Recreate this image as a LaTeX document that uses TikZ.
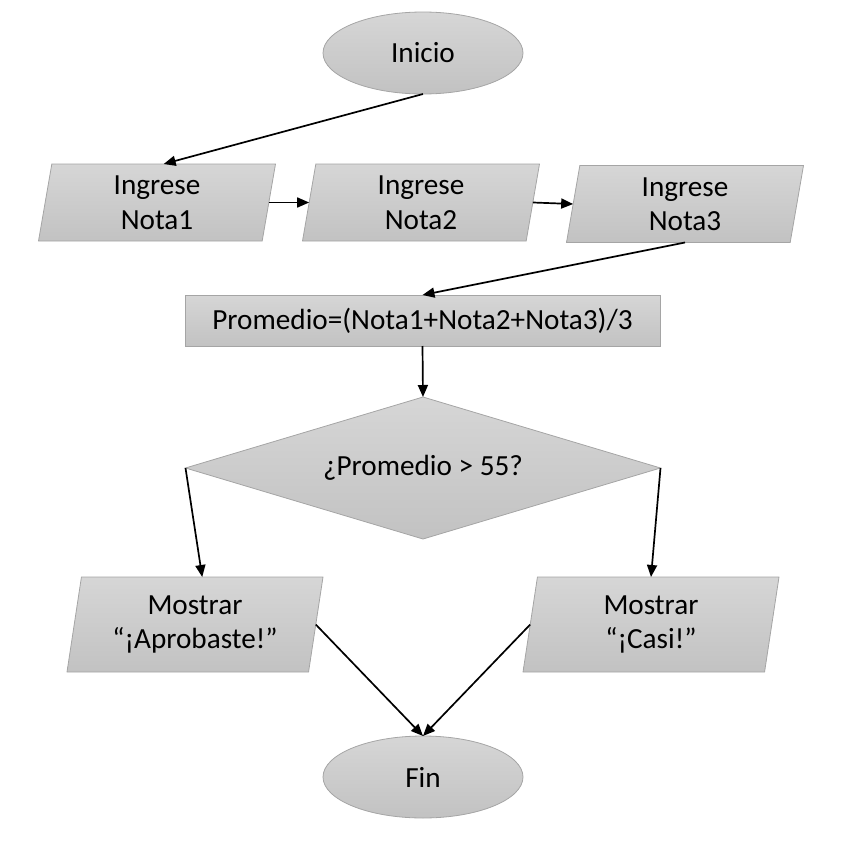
\documentclass[tikz,border=0pt]{standalone}
\usepackage{fontspec}
\setmainfont{Carlito}
\usetikzlibrary{shapes.geometric,arrows.meta}
\definecolor{shtop}{HTML}{D6D6D6}
\definecolor{shbot}{HTML}{C2C2C2}
\definecolor{edge}{HTML}{A5A5A5}
\begin{document}
\begin{tikzpicture}[x=1pt,y=-1pt,
  every node/.style={font=\fontsize{29.2}{34.5}\selectfont, text=black, align=center, inner sep=0pt, outer sep=0pt},
  blk/.style={draw=edge, line width=0.8pt, top color=shtop, bottom color=shbot},
  term/.style={blk, ellipse, minimum width=200pt, minimum height=82pt},
  io/.style={blk, trapezium, trapezium left angle=76, trapezium right angle=104, trapezium stretches body=true, minimum height=77pt, minimum width=237pt},
  ioout/.style={io, minimum height=95pt, minimum width=256pt},
  proc/.style={blk, rectangle, minimum width=475pt, minimum height=51pt},
  dec/.style={blk, diamond, minimum width=475pt, minimum height=142pt, aspect=3.35},
  arr/.style={line width=1.7pt, -{Triangle[length=12pt,width=10pt]}}
]
\useasboundingbox (0,0) rectangle (854,851);
\node[term] (inicio) at (423,53) {Inicio};
\node[io] (n1) at (157,202.5) {Ingrese\\Nota1};
\node[io] (n2) at (421,202.5) {Ingrese\\Nota2};
\node[io] (n3) at (685,204) {Ingrese\\Nota3};
\node[proc] (prom) at (422.5,320.5) {Promedio=(Nota1+Nota2+Nota3)/3};
\node[dec] (dia) at (423,468) {¿Promedio > 55?};
\node[ioout] (ap) at (195,624.5) {Mostrar\\“¡Aprobaste!”};
\node[ioout] (casi) at (651,624.5) {Mostrar\\“¡Casi!”};
\node[term] (fin) at (423,777) {Fin};
\draw[arr] (inicio.south) -- (n1.top side);
\draw[arr] (n1.right side) -- (n2.left side);
\draw[arr] (n2.right side) -- (n3.left side);
\draw[arr] (n3.south) -- (prom.north);
\draw[arr] (prom.south) -- (dia.north);
\draw[arr] (dia.west) -- (ap.top side);
\draw[arr] (dia.east) -- (casi.north);
\draw[arr] (ap.right side) -- (fin.north);
\draw[arr] (casi.left side) -- (fin.north);
\end{tikzpicture}
\end{document}
